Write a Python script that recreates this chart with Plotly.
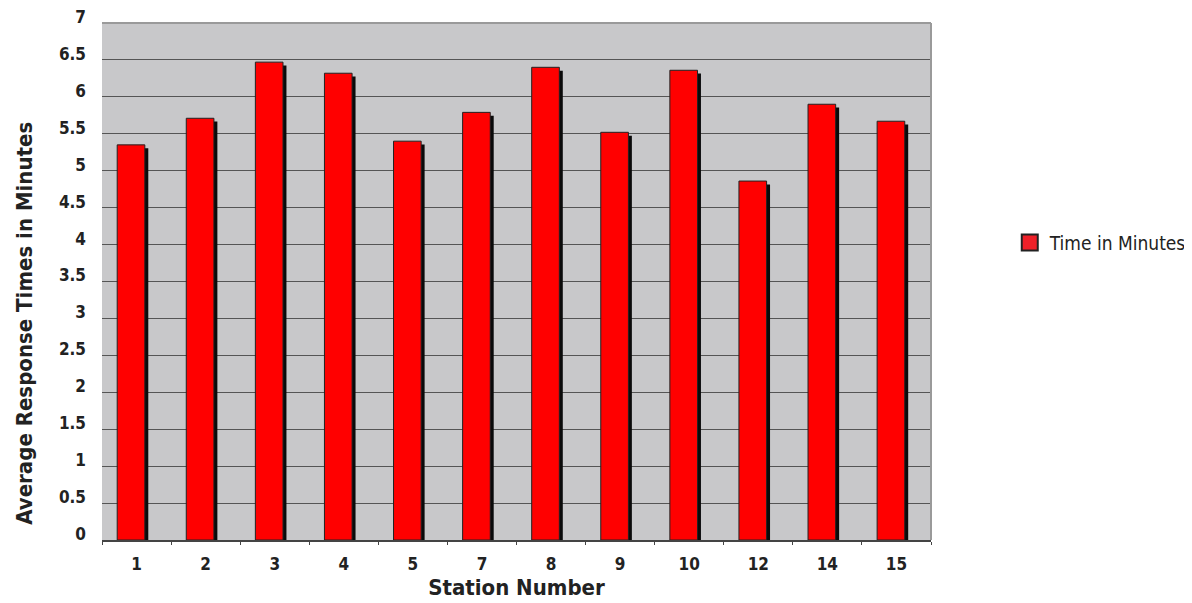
import plotly.graph_objects as go

stations = ["1", "2", "3", "4", "5", "7", "8", "9", "10", "12", "14", "15"]
times = [5.35, 5.71, 6.47, 6.32, 5.40, 5.79, 6.40, 5.52, 6.36, 4.86, 5.90, 5.67]
y_ticks = [0, 0.5, 1, 1.5, 2, 2.5, 3, 3.5, 4, 4.5, 5, 5.5, 6, 6.5, 7]
y_tick_text = ["0", "0.5", "1", "1.5", "2", "2.5", "3", "3.5", "4", "4.5", "5", "5.5", "6", "6.5", "7"]

FONT = "DejaVu Sans Condensed, Liberation Sans Narrow, Arial Narrow, sans-serif"
SHADOW_DROP = 0.045

fig = go.Figure()
# shadow bars
fig.add_trace(go.Bar(
    x=stations, y=[t - SHADOW_DROP for t in times],
    width=0.40, offset=-0.23,
    marker=dict(color="#0a0a0a", line=dict(width=0)),
    showlegend=False, hoverinfo="skip",
))
# main bars
fig.add_trace(go.Bar(
    x=stations, y=times, name="Time in Minutes",
    width=0.40, offset=-0.28,
    marker=dict(color="#ff0000", line=dict(color="#222222", width=1)),
    showlegend=False,
))
# legend entry
fig.add_trace(go.Scatter(
    x=[None], y=[None], name="Time in Minutes", mode="markers",
    marker=dict(symbol="square", size=16, color="#ee2028", line=dict(color="#222222", width=2)),
    showlegend=True,
))

fig.update_layout(
    width=1184, height=595,
    margin=dict(l=94, r=261, t=15, b=63, autoexpand=False),
    paper_bgcolor="white",
    plot_bgcolor="#c8c8ca",
    barmode="overlay",
    font=dict(family=FONT, color="#222222"),
    showlegend=True,
    legend=dict(
        x=1.095, y=0.575, xanchor="left", yanchor="middle",
        font=dict(family=FONT, size=19, color="#222222"),
        bgcolor="rgba(0,0,0,0)",
        itemsizing="trace",
    ),
    xaxis=dict(
        type="category",
        automargin=False,
        tickfont=dict(family=FONT, size=17, weight="bold", color="#222222"),
        showgrid=False,
        showline=True, linecolor="#444444", linewidth=1.5,
        ticks="outside", ticklen=3, tickcolor="#444444", tickson="boundaries",
        ticklabelstandoff=8,
        mirror=False,
        title=dict(text="Station Number", font=dict(family=FONT, size=22, weight="bold", color="#222222"), standoff=6),
    ),
    yaxis=dict(
        range=[0, 7],
        automargin=False,
        tickvals=y_ticks, ticktext=y_tick_text,
        tickfont=dict(family=FONT, size=17, weight="bold", color="#222222"),
        ticklabelshift=-6,
        ticklabeloverflow="allow",
        showgrid=True, gridcolor="#555555", gridwidth=1,
        showline=False, zeroline=False,
        ticks="", ticklabelstandoff=15,
    ),
    shapes=[
        dict(type="line", xref="paper", yref="paper", x0=0, x1=1, y0=1, y1=1,
             line=dict(color="#9a9a9a", width=2)),
        dict(type="line", xref="paper", yref="paper", x0=1, x1=1, y0=0, y1=1,
             line=dict(color="#9a9a9a", width=2)),
    ],
    annotations=[
        dict(text="Average Response Times in Minutes", textangle=-90,
             xref="paper", yref="paper", x=-0.093, y=0.42, xanchor="center", yanchor="middle",
             showarrow=False, font=dict(family=FONT, size=22, weight="bold", color="#222222")),
    ],
)

fig.write_html("out.html")
